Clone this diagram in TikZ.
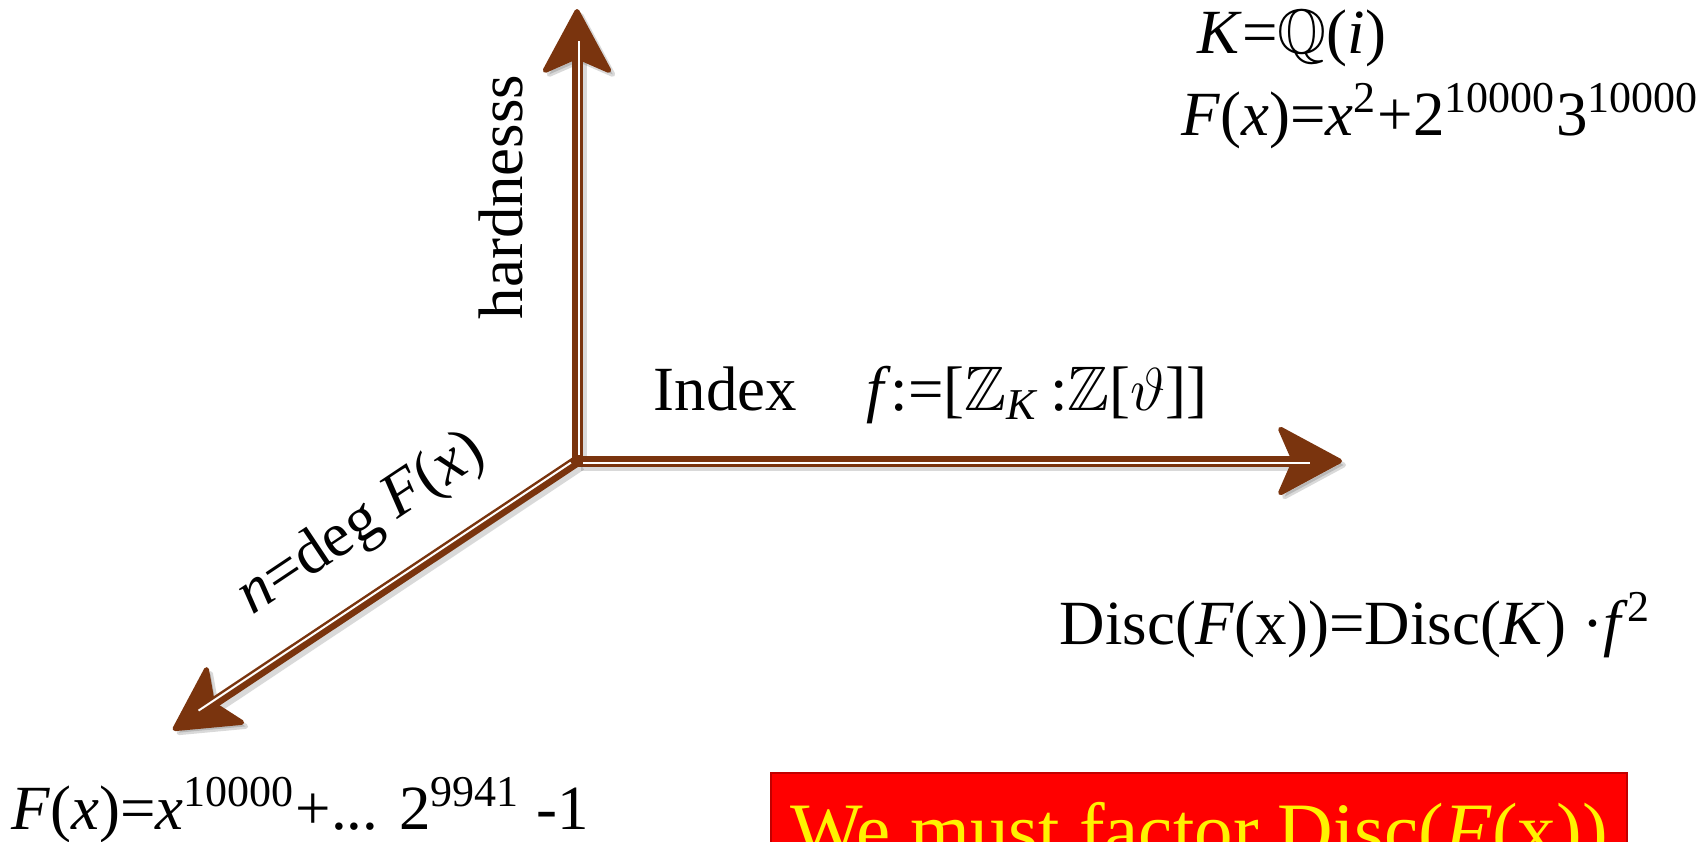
\documentclass[tikz,border=0pt]{standalone}
\usepackage{fontspec}
\setmainfont{Liberation Serif}
\usepackage{amssymb}
\usetikzlibrary{arrows.meta,calc}
\definecolor{axisbrown}{RGB}{122,52,14}
\definecolor{boxedge}{RGB}{192,0,0}

\begin{document}
\begin{tikzpicture}[x=0.1mm,y=-0.1mm,
  axis/.style={draw=axisbrown,line width=1.1mm,
    -{Stealth[length=6.9mm,width=7.4mm,inset=1.6mm,round,line width=0.5mm]}},
  axisshade/.style={axis,draw=black,opacity=0.15},
  gap/.style={draw=white,line width=0.2mm},
  lbl/.style={font=\fontsize{17.9}{20}\selectfont,inner sep=0pt},
  redbox/.style={draw=boxedge,line width=0.15mm,fill=red,text=yellow,
    font=\fontsize{21.9}{24}\selectfont,inner sep=0pt,
    minimum width=85.6mm,text height=8.3mm,text depth=5mm},
  ]
\useasboundingbox (0,0) rectangle (1707,842);
\clip (0,0) rectangle (1707,842);

\coordinate (O) at (577,461);
\coordinate (up) at (577,9);
\coordinate (right) at (1342,461);
\coordinate (left) at (173,730);

% three axes, a thin white stripe on each
\foreach \tip in {up,right,left}{
  \draw[axisshade] ([shift={(4,4)}]O) -- ([shift={(4,4)}]\tip);
}
\foreach \tip in {up,right,left}{
  \draw[axis] (O) -- (\tip);
}
\foreach \tip in {up,right,left}{
  \draw[gap] ($(O)!0.6mm!(\tip)!0.2mm!-90:(\tip)$) -- ($(\tip)!3.2mm!(O)!0.2mm!90:(O)$);
}

\node[lbl,rotate=90] (hard) at (501,197) {hardnesss};
\node[lbl,anchor=base west] (index) at (653,410)
  {Index\hspace{1.1em}\textit{f}:=[$\mathbb{Z}$\textsubscript{\textit{K}}\,:$\mathbb{Z}$[$\vartheta$]]};
\node[lbl,rotate=33.7] (deg) at (362,525) {\textit{n}=deg \textit{F}(\textit{x})};

\node[lbl,anchor=base west] (field) at (1197,53) {\textit{K}=$\mathbb{Q}$(\textit{i})};
\node[lbl,anchor=base west] (poly) at (1181,135)
  {\textit{F}(\textit{x})=\textit{x}\textsuperscript{2}+2\textsuperscript{10000}3\textsuperscript{10000}};
\node[lbl,anchor=base west] (disc) at (1059,644)
  {Disc(\textit{F}(x))=Disc(\textit{K}) ·\textit{f}\textsuperscript{2}};
\node[lbl,anchor=base west] (big) at (11,829)
  {\textit{F}(\textit{x})=\textit{x}\textsuperscript{10000}+... 2\textsuperscript{9941} -1};

\node[redbox,anchor=base] (must) at (1199,856) {We must factor Disc(\textit{F}(x))};
\end{tikzpicture}
\end{document}
